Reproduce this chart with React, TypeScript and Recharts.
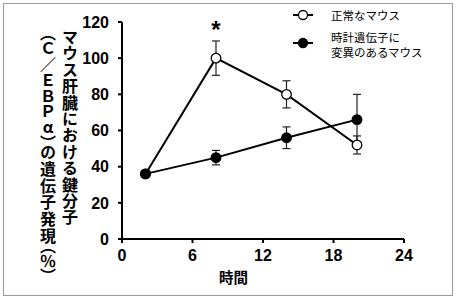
import React from "react";
import { LineChart, Line, XAxis, YAxis, ErrorBar, ReferenceDot } from "recharts";

const hours = [2, 8, 14, 20];
const normalValues = [36, 100, 80, 52];
const normalErrors = [0, 9.5, 7.5, 5];
const mutantValues = [36, 45, 56, 66];
const mutantErrors = [0, 4, 6, 14];
const xTicks = [0, 6, 12, 18, 24];
const yTicks = [0, 20, 40, 60, 80, 100, 120];
const normalName = "正常なマウス";
const mutantNameLines = ["時計遺伝子に", "変異のあるマウス"];
const xLabel = "時間";
const yLabelLine1 = "マウス肝臓における鍵分子";
const yLabelLine2 = "（Ｃ／ＥＢＰα）の遺伝子発現（％）";
const significance = { x: 8, y: 116, text: "*" };

const data = hours.map((h, i) => ({
  h,
  normal: normalValues[i],
  normalErr: normalErrors[i],
  mutant: mutantValues[i],
  mutantErr: mutantErrors[i],
}));

const jp = '"Noto Sans CJK JP", "Noto Sans", sans-serif';
const num = '"Liberation Sans", Arial, sans-serif';

const LegendBox = () => (
  <svg width={160} height={60} style={{ position: "absolute", left: 293, top: 7, overflow: "visible" }}>
    <line x1={0} y1={8} x2={20} y2={8} stroke="#000" strokeWidth={2} />
    <circle cx={10} cy={8} r={4.5} fill="#fff" stroke="#000" strokeWidth={1.3} />
    <text x={38} y={8} dominantBaseline="central" fontFamily={jp} fontSize={11.5} fill="#000">{normalName}</text>
    <line x1={0} y1={36} x2={20} y2={36} stroke="#000" strokeWidth={2} />
    <circle cx={10} cy={36} r={4.5} fill="#000" stroke="#000" strokeWidth={1.3} />
    <text x={38} y={30} dominantBaseline="central" fontFamily={jp} fontSize={11.5} fill="#000">{mutantNameLines[0]}</text>
    <text x={38} y={45} dominantBaseline="central" fontFamily={jp} fontSize={11.5} fill="#000">{mutantNameLines[1]}</text>
  </svg>
);

export default function App() {
  return (
    <div style={{ position: "absolute", left: 0, top: 0, width: 456, height: 299, background: "#fff" }}>
      <div style={{ position: "absolute", left: 3, top: 3, width: 448, height: 291, border: "1px solid #999" }} />
      <LineChart
        width={456}
        height={299}
        data={data}
        margin={{ top: 22, right: 52, left: 82, bottom: 30 }}
        style={{ position: "absolute", left: 0, top: 0 }}
      >
        <XAxis
          dataKey="h"
          type="number"
          domain={[0, 24]}
          ticks={xTicks}
          height={30}
          stroke="#000"
          strokeWidth={2}
          tickSize={4}
          tickMargin={7}
          tick={{ fill: "#000", fontFamily: num, fontWeight: "bold", fontSize: 16 }}
          tickLine={{ stroke: "#000", strokeWidth: 2 }}
        />
        <YAxis
          type="number"
          domain={[0, 120]}
          ticks={yTicks}
          width={40}
          stroke="#000"
          strokeWidth={2}
          tickSize={4}
          tickMargin={9}
          tick={{ fill: "#000", fontFamily: num, fontWeight: "bold", fontSize: 16 }}
          tickLine={{ stroke: "#000", strokeWidth: 2 }}
        />
        <Line
          dataKey="normal"
          stroke="#000"
          strokeWidth={2}
          isAnimationActive={false}
          dot={{ r: 4.8, fill: "#fff", stroke: "#000", strokeWidth: 1.3 }}
        >
          <ErrorBar dataKey="normalErr" width={4} stroke="#222" strokeWidth={1.2} />
        </Line>
        <Line
          dataKey="mutant"
          stroke="#000"
          strokeWidth={2}
          isAnimationActive={false}
          dot={{ r: 4.8, fill: "#000", stroke: "#000", strokeWidth: 1.3 }}
        >
          <ErrorBar dataKey="mutantErr" width={4} stroke="#222" strokeWidth={1.2} />
        </Line>
        <ReferenceDot
          x={significance.x}
          y={significance.y}
          r={0}
          fill="none"
          stroke="none"
          label={{ value: significance.text, position: "center", fill: "#000", fontSize: 24, fontWeight: "bold", fontFamily: num }}
        />
      </LineChart>
      <LegendBox />
      <div
        style={{
          position: "absolute",
          left: 37,
          top: 29,
          writingMode: "vertical-rl",
          fontFamily: jp,
          fontWeight: "bold",
          fontSize: 16,
          lineHeight: "22px",
          color: "#000",
          whiteSpace: "nowrap",
        }}
      >
        <div style={{ letterSpacing: "0.4px" }}>{yLabelLine1}</div>
        <div style={{ textOrientation: "upright", fontFeatureSettings: '"vpal"', letterSpacing: "0.8px", marginTop: 3 }}>{yLabelLine2}</div>
      </div>
      <div
        style={{
          position: "absolute",
          left: 219,
          top: 266,
          fontFamily: jp,
          fontWeight: "bold",
          fontSize: 14.5,
          color: "#000",
        }}
      >
        {xLabel}
      </div>
    </div>
  );
}
